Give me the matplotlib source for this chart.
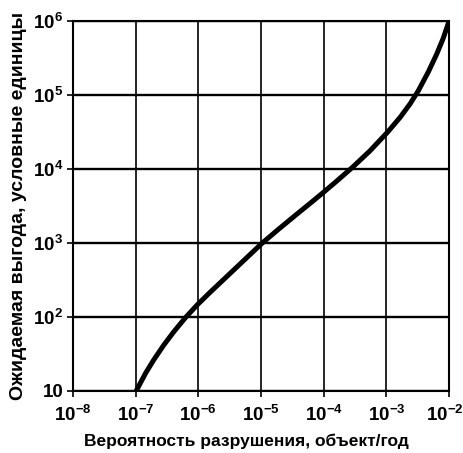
import matplotlib
matplotlib.use('Agg')

import numpy as np
import matplotlib.pyplot as plt
import matplotlib.transforms as mtransforms

plt.rcParams['font.family'] = ['Liberation Sans', 'DejaVu Sans']
plt.rcParams['font.weight'] = 'bold'
plt.rcParams['mathtext.fontset'] = 'custom'
plt.rcParams['mathtext.rm'] = 'Liberation Sans:bold'
plt.rcParams['mathtext.it'] = 'Liberation Sans:bold'
plt.rcParams['mathtext.bf'] = 'Liberation Sans:bold'
plt.rcParams['mathtext.default'] = 'rm'

# curve (log10 values)
log_prob = [-6.99, -6.84, -6.71, -6.55, -6.39, -6.205, -6.02, -5.81, -5.62,
            -5.30, -4.98, -4.72, -4.455, -4.19, -4.0, -3.79, -3.53, -3.26,
            -2.98, -2.78, -2.625, -2.49, -2.33, -2.20, -2.095, -2.0]
log_gain = [1.0, 1.24, 1.42, 1.62, 1.80, 1.99, 2.16, 2.334, 2.486,
            2.742, 2.998, 3.185, 3.37, 3.553, 3.686, 3.837, 4.03, 4.246,
            4.498, 4.698, 4.876, 5.058, 5.314, 5.548, 5.763, 6.0]

x_ticks = [1e-8, 1e-7, 1e-6, 1e-5, 1e-4, 1e-3, 1e-2]
x_labels = ['$10^{-8}$', '$10^{-7}$', '$10^{-6}$', '$10^{-5}$',
            '$10^{-4}$', '$10^{-3}$', '$10^{-2}$']
y_ticks = [1e1, 1e2, 1e3, 1e4, 1e5, 1e6]
y_labels = ['10', '$10^{2}$', '$10^{3}$', '$10^{4}$', '$10^{5}$', '$10^{6}$']

prob = 10 ** np.array(log_prob)
gain = 10 ** np.array(log_gain)

fig = plt.figure(figsize=(4.64, 4.53), dpi=100)
ax = fig.add_axes([0.157, 0.137, 0.811, 0.817])

ax.plot(prob, gain, color='black', lw=3.6, solid_capstyle='butt',
        solid_joinstyle='round', zorder=3)

ax.set_xscale('log')
ax.set_yscale('log')
ax.set_xlim(1e-8, 1e-2)
ax.set_ylim(10, 1e6)
ax.set_xticks(x_ticks)
ax.set_xticklabels(x_labels)
ax.set_yticks(y_ticks)
ax.set_yticklabels(y_labels)
ax.minorticks_off()

ax.xaxis.grid(True, color='black', lw=1.2)
ax.yaxis.grid(True, color='black', lw=1.7)
for s in ax.spines.values():
    s.set_linewidth(1.5)

ax.tick_params(axis='both', direction='out', length=4, width=1.2,
               labelsize=13.5, colors='black')
ax.tick_params(axis='x', pad=6)
ax.tick_params(axis='y', pad=3)

# nudge the last x label inward so it stays on the canvas
last = ax.get_xticklabels()[-1]
last.set_transform(last.get_transform() +
                   mtransforms.ScaledTranslation(-4 / 100, 0, fig.dpi_scale_trans))

ax.set_xlabel('Вероятность разрушения, объект/год', fontsize=12.5,
              fontweight='bold', labelpad=7)
ax.xaxis.set_label_coords(0.46, -0.115)
ax.set_ylabel('Ожидаемая выгода, условные единицы', fontsize=14,
              fontweight='bold', labelpad=4)

plt.savefig('out.png', dpi=100)
plt.close()
